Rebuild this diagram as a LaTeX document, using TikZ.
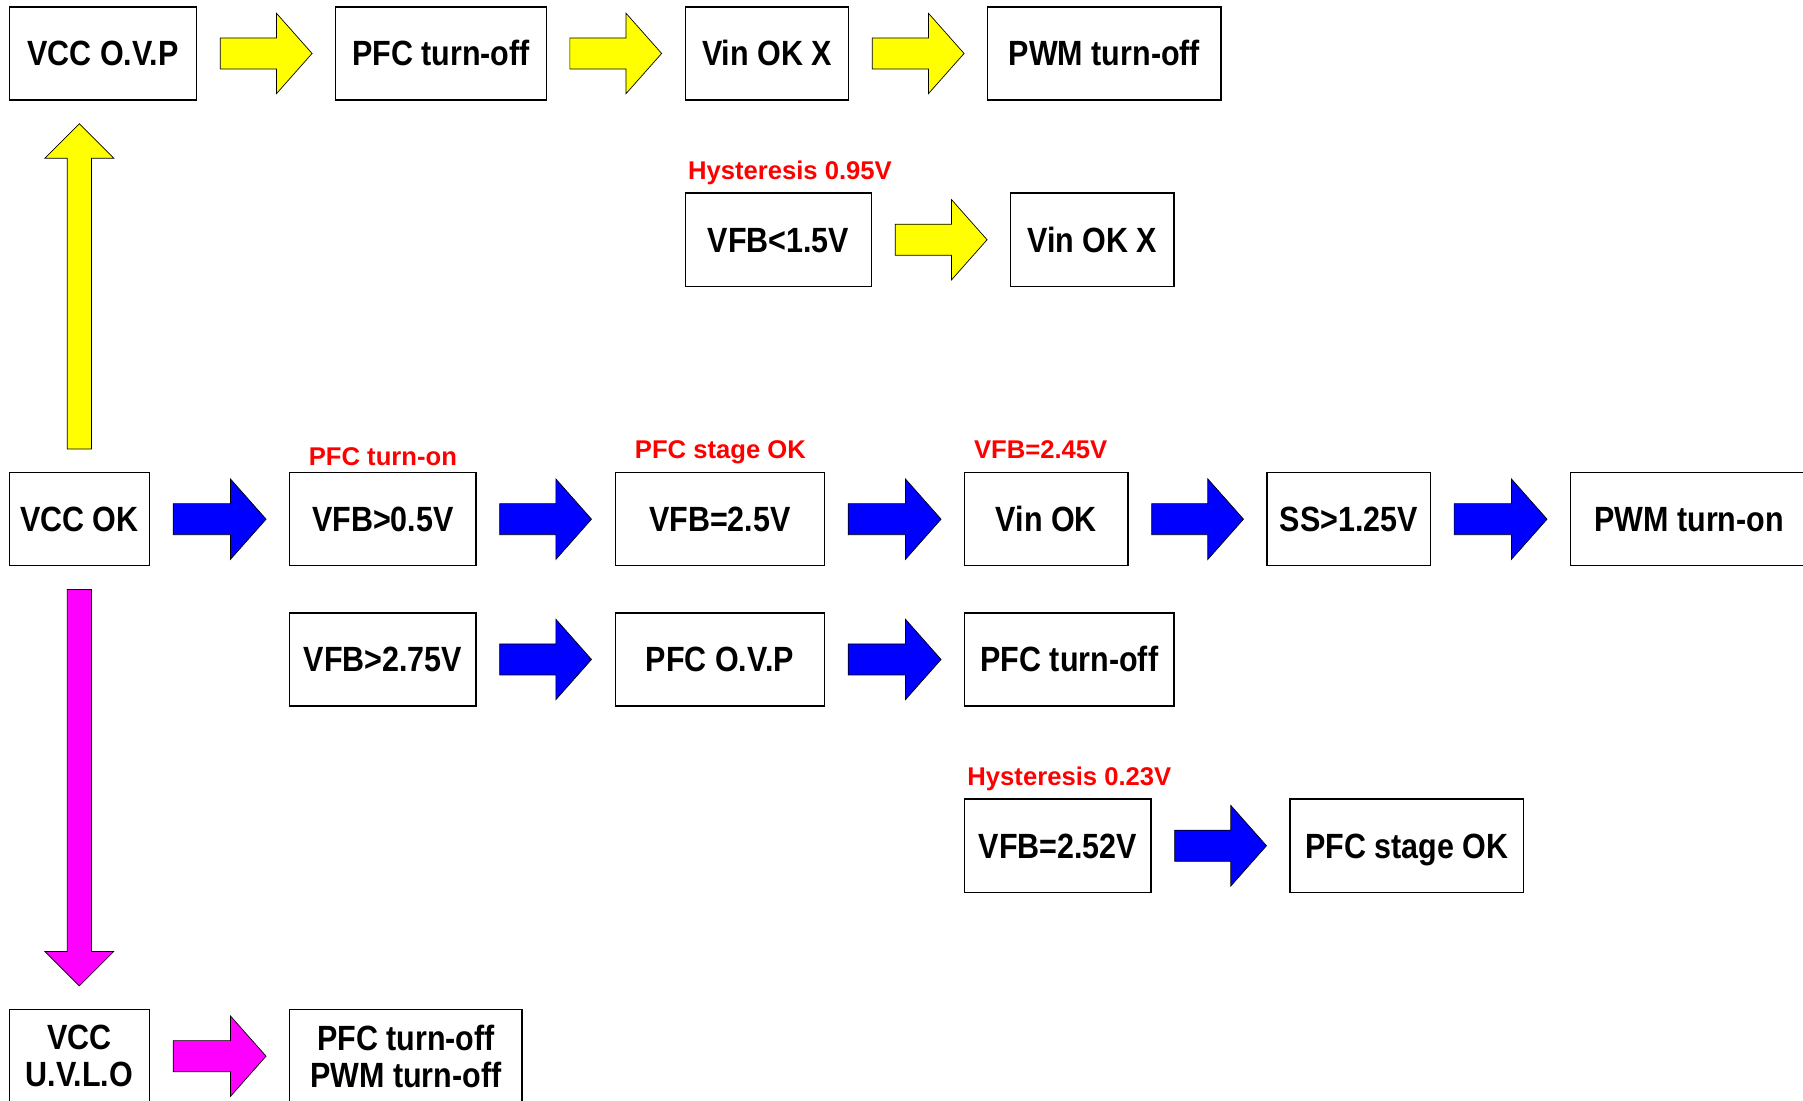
\documentclass[tikz,border=0pt]{standalone}
\usepackage{graphicx}
\usepackage{fontspec}
\setmainfont{Liberation Sans}
\usetikzlibrary{calc}

\definecolor{arrowyellow}{RGB}{255,255,0}
\definecolor{arrowblue}{RGB}{0,0,255}
\definecolor{arrowmagenta}{RGB}{255,0,255}
\definecolor{notered}{RGB}{255,0,0}

% text in the boxes is a little taller than normal
\newcommand{\tall}[1]{\scalebox{1}[1.15]{#1}}

% fat block arrow: from, to, colour, half shaft, half head, head length
\newcommand{\blockarrow}[6]{%
  \coordinate (ba-t) at ($(#1)!20pt!(#2)$);
  \coordinate (ba-e) at ($(#2)!20pt!(#1)$);
  \coordinate (ba-h) at ($(ba-e)!#6!(ba-t)$);
  \filldraw[blockedge, fill=#3]
    ($(ba-t)!#4!90:(ba-e)$) -- ($(ba-h)!#4!90:(ba-e)$) -- ($(ba-h)!#5!90:(ba-e)$)
    -- (ba-e) -- ($(ba-h)!#5!-90:(ba-e)$) -- ($(ba-h)!#4!-90:(ba-e)$)
    -- ($(ba-t)!#4!-90:(ba-e)$) -- cycle;
}
\newcommand{\hblock}[3]{\blockarrow{#1.east}{#2.west}{#3}{13.5pt}{35pt}{31pt}}

\tikzset{
  box/.style={draw=black, line width=1.2pt, fill=white, inner sep=0pt,
    minimum height=81pt, align=center, text height=21.8pt, text depth=0pt,
    font=\bfseries\fontsize{26.5}{32}\selectfont},
  twoline/.style={text height={}, text depth={}},
  note/.style={text=notered, inner sep=0pt, anchor=base,
    font=\bfseries\fontsize{22.3}{26}\selectfont},
  blockedge/.style={draw=black, line width=0.6pt},
}

\begin{document}
\begin{tikzpicture}[x=1pt, y=-1pt]
  \useasboundingbox (0,0) rectangle (1568,957);

  % --- 1. VCC O.V.P chain ---
  \node[box, minimum width=163pt] (ovp)     at (89.5, 46.5)  {\tall{VCC O.V.P}};
  \node[box, minimum width=183pt] (pfcoffA) at (383.5, 46.5) {\tall{PFC turn-off}};
  \node[box, minimum width=142pt] (vinxA)   at (667, 46.5)   {\tall{Vin OK X}};
  \node[box, minimum width=203pt] (pwmoff)  at (960.5, 46.5) {\tall{PWM turn-off}};
  \hblock{ovp}{pfcoffA}{arrowyellow}
  \hblock{pfcoffA}{vinxA}{arrowyellow}
  \hblock{vinxA}{pwmoff}{arrowyellow}

  % --- 2. Vin hysteresis ---
  \node[box, minimum width=162pt] (vfbA)  at (677, 208.5) {\tall{VFB<1.5V}};
  \node[box, minimum width=142pt] (vinxB) at (950, 208.5) {\tall{Vin OK X}};
  \node[note] (hysA) at (687, 156) {Hysteresis 0.95V};
  \hblock{vfbA}{vinxB}{arrowyellow}

  % --- 3. start-up sequence ---
  \node[box, minimum width=122pt] (vccok) at (69, 451.5)     {\tall{VCC OK}};
  \node[box, minimum width=162pt] (vfbB)  at (333, 451.5)    {\tall{VFB>0.5V}};
  \node[box, minimum width=182pt] (vfbC)  at (626, 451.5)    {\tall{VFB=2.5V}};
  \node[box, minimum width=142pt] (vinok) at (910, 451.5)    {\tall{Vin OK}};
  \node[box, minimum width=142pt] (ss)    at (1173, 451.5)   {\tall{SS>1.25V}};
  \node[box, minimum width=206pt] (pwmon) at (1469, 451.5)   {\tall{PWM turn-on}};
  \node[note] (pfcon)   at (333, 405)   {PFC turn-on};
  \node[note] (stageA)  at (626.5, 399) {PFC stage OK};
  \node[note] (vinlvl)  at (905, 399)   {VFB=2.45V};
  \hblock{vccok}{vfbB}{arrowblue}
  \hblock{vfbB}{vfbC}{arrowblue}
  \hblock{vfbC}{vinok}{arrowblue}
  \hblock{vinok}{ss}{arrowblue}
  \hblock{ss}{pwmon}{arrowblue}

  % --- 4. PFC O.V.P ---
  \node[box, minimum width=162pt] (vfbD)    at (333, 573.5) {\tall{VFB>2.75V}};
  \node[box, minimum width=182pt] (pfcovp)  at (626, 573.5) {\tall{PFC O.V.P}};
  \node[box, minimum width=182pt] (pfcoffB) at (930, 573.5) {\tall{PFC turn-off}};
  \hblock{vfbD}{pfcovp}{arrowblue}
  \hblock{pfcovp}{pfcoffB}{arrowblue}

  % --- 5. PFC hysteresis ---
  \node[box, minimum width=162pt] (vfbE)   at (920, 735.5)    {\tall{VFB=2.52V}};
  \node[box, minimum width=203pt] (stageB) at (1223.5, 735.5) {\tall{PFC stage OK}};
  \node[note] (hysB) at (930, 683) {Hysteresis 0.23V};
  \hblock{vfbE}{stageB}{arrowblue}

  % --- 6. U.V.L.O ---
  \node[box, twoline, minimum width=122pt] (uvlo)   at (69, 918.5)  {\tall{VCC}\\\tall{U.V.L.O}};
  \node[box, twoline, minimum width=202pt] (alloff) at (353, 918.5) {\tall{PFC turn-off}\\\tall{PWM turn-off}};
  \hblock{uvlo}{alloff}{arrowmagenta}

  % --- 7. vertical arrows out of VCC OK ---
  \coordinate (ovpfoot) at (vccok.north |- ovp.south);
  \blockarrow{vccok.north}{ovpfoot}{arrowyellow}{10.5pt}{30pt}{30pt}
  \blockarrow{vccok.south}{uvlo.north}{arrowmagenta}{10.5pt}{30pt}{30pt}

\end{tikzpicture}
\end{document}
